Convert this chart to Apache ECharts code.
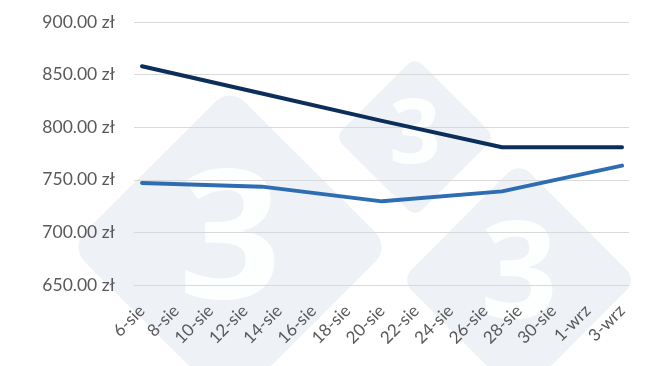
<!DOCTYPE html>
<html>
<head>
<meta charset="utf-8">
<script src="https://cdn.jsdelivr.net/npm/echarts@6/dist/echarts.min.js"></script>
<style>html,body{margin:0;padding:0;background:#fff}#c{width:650px;height:366px}</style>
</head>
<body>
<div id="c"></div>
<script>
// Axis categories (every day; labels shown every other day)
const days = ['6-sie','7-sie','8-sie','9-sie','10-sie','11-sie','12-sie','13-sie','14-sie','15-sie','16-sie','17-sie','18-sie','19-sie','20-sie','21-sie','22-sie','23-sie','24-sie','25-sie','26-sie','27-sie','28-sie','29-sie','30-sie','31-sie','1-wrz','2-wrz','3-wrz'];
// Observation dates
const obsDates = ['6-sie','13-sie','20-sie','27-sie','3-wrz'];
// Series values (zł)
const seriesDark = [858, 832, 806, 781, 781];
const seriesLight = [747, 743.5, 729.5, 739, 763.5];
// Y ticks
const yMin = 650, yMax = 900, yStep = 50;

const chart = echarts.init(document.getElementById('c'), null, {renderer:'canvas'});
const font = 'Lato';
const labelColor = '#595959';

function diamond(cx, cy, half, textSize) {
  const s = half * Math.SQRT2;
  return [
    { type:'rect', x:cx, y:cy, rotation:Math.PI/4, silent:true, z:-100,
      shape:{x:-s/2, y:-s/2, width:s, height:s, r:s*0.09},
      style:{fill:'#eef2f7'} },
    { type:'text', x:cx, y:cy, silent:true, z:-99,
      style:{text:'3', fontSize:textSize, fontWeight:'bold', fontFamily:'Open Sans', fill:'#fdfefe', align:'center', verticalAlign:'middle'} }
  ];
}

chart.setOption({
  animation:false,
  backgroundColor:'#fff',
  graphic:[].concat(diamond(230, 247, 160, 180), diamond(415, 137, 80, 90), diamond(519, 280, 118, 135)),
  grid:[
    {left:142, right:28, top:22, bottom:81},
    {left:134, right:21, top:22, bottom:81}
  ],
  xAxis:[
    {gridIndex:0, type:'category', data:days, boundaryGap:false,
     axisLine:{show:false}, axisTick:{show:false},
     axisLabel:{interval:1, rotate:45, color:labelColor, fontSize:17, fontFamily:font, margin:23}},
    {gridIndex:1, type:'value', show:false, min:0, max:1}
  ],
  yAxis:[
    {gridIndex:0, type:'value', min:yMin, max:yMax, interval:yStep,
     axisLine:{show:false}, axisTick:{show:false}, splitLine:{show:false}, axisLabel:{show:false}},
    {gridIndex:1, type:'value', min:yMin, max:yMax, interval:yStep,
     axisLine:{show:false}, axisTick:{show:false},
     splitLine:{lineStyle:{color:'#d9d9d9', width:1}},
     axisLabel:{color:labelColor, fontSize:17.5, fontFamily:font, margin:19,
       formatter:v => v.toFixed(2) + ' zł'}}
  ],
  series:[
    {type:'line', xAxisIndex:0, yAxisIndex:0, name:'A',
     data:obsDates.map((d,i)=>[d, seriesDark[i]]),
     showSymbol:false, symbol:'none', z:5,
     lineStyle:{color:'#0b2f5a', width:4, cap:'round', join:'round'}},
    {type:'line', xAxisIndex:0, yAxisIndex:0, name:'B',
     data:obsDates.map((d,i)=>[d, seriesLight[i]]),
     showSymbol:false, symbol:'none', z:4,
     lineStyle:{color:'#2e6db2', width:4, cap:'round', join:'round'}}
  ]
});
</script>
</body>
</html>
